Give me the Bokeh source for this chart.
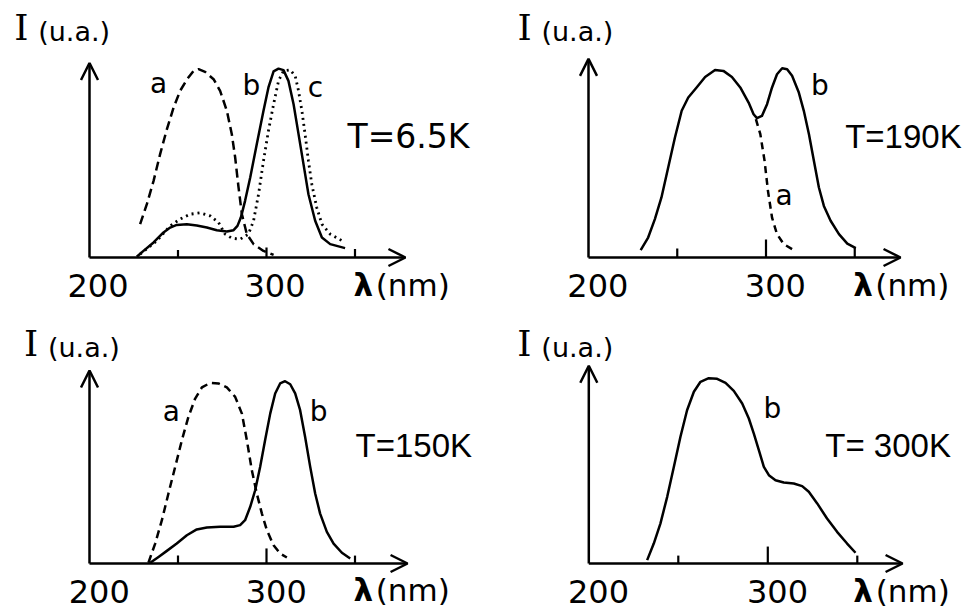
from bokeh.plotting import figure
from bokeh.layouts import column, row
from bokeh.models import Arrow, OpenHead, Range1d
from bokeh.core.properties import value
from bokeh.embed import file_html
from bokeh.resources import INLINE

# ---------------- data ----------------
tick_values = [250, 300, 350]
tick_label_values = [200, 300]
tick_labels = ["200", "300"]

# T = 6.5 K
p1_a_wl = [228.6, 232.4, 236.2, 239.9, 243.7, 247.5, 251.2, 255.0, 258.8, 261.6, 265.3, 270.1,
           273.8, 277.6, 280.4, 282.3, 284.2, 286.1, 288.9, 292.7, 298.3, 304.0]
p1_a_I = [0.177, 0.283, 0.407, 0.549, 0.681, 0.796, 0.885, 0.945, 0.991, 1.0, 0.986, 0.947,
          0.885, 0.779, 0.655, 0.531, 0.372, 0.230, 0.124, 0.071, 0.035, 0.014]
p1_b_wl = [226.7, 230.5, 236.2, 241.8, 245.6, 249.3, 255.0, 260.6, 266.3, 271.9, 277.6, 281.4,
           283.6, 285.5, 287.9, 290.8, 294.5, 298.3, 301.1, 304.0, 306.8, 309.6, 312.4, 315.3,
           318.1, 320.9, 323.7, 327.5, 331.3, 336.0, 344.4]
p1_b_I = [0.004, 0.035, 0.080, 0.133, 0.159, 0.173, 0.177, 0.170, 0.159, 0.145, 0.138, 0.145,
          0.168, 0.212, 0.301, 0.425, 0.602, 0.779, 0.903, 0.988, 1.003, 0.995, 0.938, 0.814,
          0.655, 0.496, 0.336, 0.195, 0.106, 0.071, 0.050]
p1_c_wl = [228.6, 238.0, 245.6, 251.2, 256.9, 262.5, 268.2, 272.9, 276.6, 280.4, 285.1, 289.8,
           292.7, 295.5, 298.3, 301.1, 304.0, 306.8, 309.6, 313.4, 316.2, 318.1, 320.0, 321.8,
           323.7, 325.6, 328.4, 331.3, 336.0, 343.5]
p1_c_I = [0.018, 0.088, 0.168, 0.204, 0.230, 0.237, 0.221, 0.186, 0.124, 0.103, 0.097, 0.124,
          0.195, 0.336, 0.513, 0.673, 0.814, 0.938, 0.991, 0.996, 0.965, 0.885, 0.779, 0.655,
          0.513, 0.389, 0.265, 0.177, 0.124, 0.085]

# T = 190 K
p2_b_wl = [229.4, 233.6, 237.4, 241.1, 244.9, 248.7, 252.5, 256.2, 260.9, 265.7, 271.3, 276.0,
           280.8, 285.5, 290.2, 293.0, 294.9, 297.7, 300.6, 303.4, 306.2, 309.1, 311.9, 314.7,
           318.5, 321.3, 324.2, 327.0, 329.8, 332.6, 336.4, 341.1, 345.8, 350.6]
p2_b_I = [0.039, 0.106, 0.204, 0.319, 0.478, 0.637, 0.779, 0.850, 0.903, 0.959, 0.996, 0.991,
          0.959, 0.903, 0.823, 0.761, 0.740, 0.752, 0.814, 0.903, 0.973, 1.005, 1.0, 0.965,
          0.876, 0.779, 0.655, 0.513, 0.372, 0.274, 0.195, 0.124, 0.074, 0.050]
p2_a_wl = [294.3, 296.8, 299.2, 301.1, 303.4, 306.2, 310.0, 315.7]
p2_a_I = [0.735, 0.655, 0.513, 0.354, 0.212, 0.124, 0.071, 0.039]

# T = 150 K
p3_a_wl = [233.3, 237.1, 240.9, 244.6, 248.4, 252.2, 255.9, 259.7, 263.5, 268.2, 272.9, 277.6,
           282.3, 286.1, 288.9, 291.7, 294.5, 297.4, 300.2, 304.0, 307.7, 311.5]
p3_a_I = [0.004, 0.106, 0.230, 0.372, 0.513, 0.655, 0.779, 0.876, 0.935, 0.959, 0.956, 0.935,
          0.885, 0.796, 0.655, 0.496, 0.372, 0.265, 0.177, 0.097, 0.053, 0.032]
p3_b_wl = [234.3, 239.0, 243.7, 249.3, 255.0, 260.6, 266.3, 273.8, 281.4, 285.1, 287.9, 290.8,
           293.6, 296.4, 299.2, 302.1, 304.9, 307.7, 310.5, 313.4, 316.2, 319.0, 321.8, 324.7,
           327.5, 330.3, 334.1, 337.9, 342.6, 347.3]
p3_b_I = [0.004, 0.035, 0.067, 0.106, 0.150, 0.181, 0.191, 0.195, 0.195, 0.204, 0.230, 0.301,
          0.389, 0.513, 0.655, 0.796, 0.903, 0.956, 0.968, 0.952, 0.903, 0.814, 0.673, 0.513,
          0.372, 0.265, 0.168, 0.106, 0.057, 0.027]

# T = 300 K
p4_b_wl = [232.6, 236.3, 240.0, 243.8, 247.5, 251.2, 254.9, 258.7, 262.4, 267.0, 271.7, 276.4,
           281.0, 285.7, 289.4, 292.2, 295.0, 297.8, 300.6, 304.3, 308.9, 314.5, 319.2, 322.9,
           327.6, 333.1, 338.7, 344.3, 349.0]
p4_b_I = [0.018, 0.106, 0.212, 0.354, 0.513, 0.673, 0.814, 0.912, 0.965, 0.984, 0.981, 0.959,
          0.917, 0.850, 0.770, 0.690, 0.602, 0.513, 0.469, 0.442, 0.430, 0.425, 0.411, 0.381,
          0.319, 0.239, 0.168, 0.106, 0.057]

temps = ["T=6.5K", "T=190K", "T=150K", "T= 300K"]

# ---------------- styling / layout ----------------
FONT = value("DejaVu Sans")
NARROW = value("Liberation Sans")
SERIF = value("DejaVu Serif")
LW = 2.5
SY = 188.3  # px per intensity unit
TXT = dict(text_baseline="middle", text_color="black")


def make_panel(W, H, fx, fy, ox, oy, sx):
    x0 = 200 - (ox - fx) / sx
    y1 = (oy - fy) / SY
    p = figure(width=W, height=H, x_range=Range1d(x0, x0 + W / sx),
               y_range=Range1d(y1 - H / SY, y1),
               x_axis_location=None, y_axis_location=None,
               toolbar_location=None, output_backend="svg", min_border=0,
               outline_line_color=None, background_fill_color="white",
               border_fill_color="white")
    p.grid.visible = False
    return p


def axes(p, x_end, y_end, tick_h, lab):
    head = dict(size=17, line_width=LW, line_color="black")
    p.add_layout(Arrow(end=OpenHead(**head), x_start=200, y_start=0, x_end=x_end, y_end=0,
                       line_width=LW, line_color="black"))
    p.add_layout(Arrow(end=OpenHead(**head), x_start=200, y_start=0, x_end=200, y_end=y_end,
                       line_width=LW, line_color="black"))
    p.segment(x0=tick_values, y0=[0] * 3, x1=tick_values, y1=tick_h,
              line_width=2.2, line_color="black")
    # tick labels
    p.text(x=[v + lab["dx"] for v in tick_label_values], y=[lab["ty"]] * 2, text=tick_labels,
           text_font=FONT, text_font_size="32px", text_align="center", **TXT)
    # axis titles
    p.text(x=[lab["Ix"]], y=[lab["Iy"]], text=["I"], text_font=SERIF, text_font_size="36px",
           text_align="left", **TXT)
    p.text(x=[lab["Ix"] + lab["ua"]], y=[lab["Iy"] - 0.02], text=["(u.a.)"], text_font=FONT,
           text_font_size="27px", text_align="left", **TXT)
    p.text(x=[lab["lx"]], y=[lab["ly"]], text=["λ"], text_font=FONT, text_font_size="31px",
           text_font_style="bold", text_align="left", **TXT)
    p.text(x=[lab["lx"] + 12.5], y=[lab["ly"]], text=["(nm)"], text_font=FONT,
           text_font_size="31px", text_align="left", **TXT)
    p.text(x=[lab["Tx"]], y=[lab["Ty"]], text=[lab["T"]], text_font=lab["Tf"],
           text_font_size="33px", text_align="left", **TXT)


def curve_labels(p, xs, ys, txt):
    p.text(x=xs, y=ys, text=txt, text_font=FONT, text_font_size="28px", text_align="center",
           **TXT)


# Panel 1
p1 = make_panel(483, 306, 0, 0, 89, 257, 1.77)
axes(p1, 378.5, 1.033, [0.04, 0.053, 0.045],
     dict(dx=4.8, ty=-0.151, Ix=157.5, Iy=1.219, ua=13.5, lx=349.2, ly=-0.145,
          Tx=345.8, Ty=0.645, T=temps[0], Tf=FONT))
p1.line(p1_a_wl, p1_a_I, line_width=LW, line_color="black", line_dash="9 5")
p1.line(p1_c_wl, p1_c_I, line_width=2.8, line_color="black", line_dash="2 4")
p1.line(p1_b_wl, p1_b_I, line_width=LW, line_color="black", line_join="round")
curve_labels(p1, [239, 291.5, 327.7], [0.924, 0.913, 0.903], ["a", "b", "c"])

# Panel 2
p2 = make_panel(484, 306, 483, 0, 588, 257, 1.775)
axes(p2, 375.8, 1.055, [0.048, 0.096, 0.053],
     dict(dx=5.3, ty=-0.151, Ix=160.0, Iy=1.219, ua=13.5, lx=349.1, ly=-0.145,
          Tx=344.6, Ty=0.645, T=temps[1], Tf=NARROW))
p2.line(p2_a_wl, p2_a_I, line_width=LW, line_color="black", line_dash="7 5")
p2.line(p2_b_wl, p2_b_I, line_width=LW, line_color="black", line_join="round")
curve_labels(p2, [330.4, 310.2], [0.913, 0.329], ["b", "a"])

# Panel 3
p3 = make_panel(483, 305, 0, 306, 89, 563, 1.77)
axes(p3, 379.7, 1.025, [0.042, 0.08, 0.042],
     dict(dx=5.5, ty=-0.149, Ix=163.0, Iy=1.168, ua=13.5, lx=349.2, ly=-0.141,
          Tx=350.3, Ty=0.629, T=temps[2], Tf=NARROW))
p3.line(p3_a_wl, p3_a_I, line_width=LW, line_color="black", line_dash="8 5")
p3.line(p3_b_wl, p3_b_I, line_width=LW, line_color="black", line_join="round")
curve_labels(p3, [246.3, 329.4], [0.807, 0.807], ["a", "b"])

# Panel 4
p4 = make_panel(484, 305, 483, 306, 588.3, 563, 1.79)
axes(p4, 375.3, 1.05, [0.042, 0.09, 0.042],
     dict(dx=5.4, ty=-0.149, Ix=160.0, Iy=1.168, ua=13.5, lx=347.8, ly=-0.145,
          Tx=332.1, Ty=0.629, T=temps[3], Tf=NARROW))
p4.line(p4_b_wl, p4_b_I, line_width=LW, line_color="black", line_join="round")
curve_labels(p4, [302.6], [0.823], ["b"])

layout = column(row(p1, p2, spacing=0), row(p3, p4, spacing=0), spacing=0)

open("out.html", "w").write(file_html(layout, INLINE))
